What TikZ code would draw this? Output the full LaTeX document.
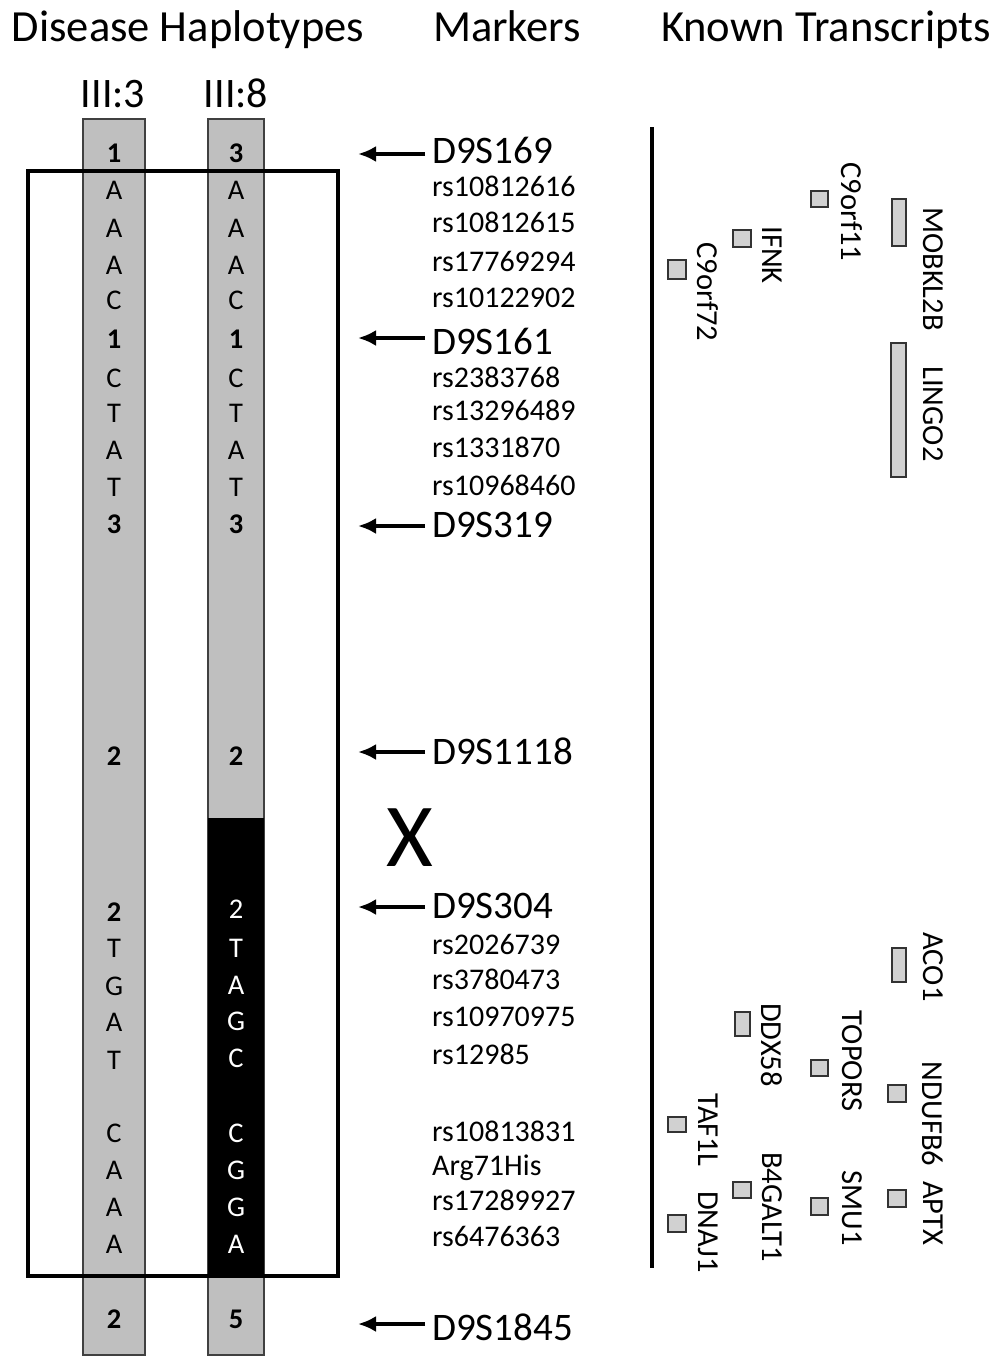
\documentclass[tikz,border=0pt]{standalone}
\usepackage{fontspec}
\setmainfont{Carlito}
\usetikzlibrary{arrows.meta}

\tikzset{
  heading/.style={inner sep=0pt, font=\fontsize{44.5}{48}\selectfont, text height=28.6pt, text depth=0pt},
  sample/.style={inner sep=0pt, font=\fontsize{42}{46}\selectfont, text height=27pt, text depth=0pt},
  allele/.style={inner sep=0pt, font=\fontsize{28.5}{30}\selectfont, text height=18.3pt, text depth=0pt},
  repeatnum/.style={allele, font=\fontsize{28.5}{30}\selectfont\bfseries},
  marker/.style={anchor=west, inner sep=0pt, font=\fontsize{39}{42}\selectfont, text height=25pt, text depth=0pt},
  snp/.style={anchor=west, inner sep=0pt, font=\fontsize{30}{34}\selectfont, text height=19.3pt, text depth=0pt},
  gene/.style={rotate=-90, inner sep=0pt, font=\fontsize{30.5}{33}\selectfont},
  genebox/.style={draw=black!80, fill=black!18, line width=1.5pt},
  pointer/.style={-{Latex[length=18pt, width=16pt]}, line width=3.5pt, shorten <=7pt},
}

\begin{document}
\begin{tikzpicture}[x=1pt, y=-1pt]
\useasboundingbox (0,0) rectangle (997,1357);

\node[heading] (haplo) at (188,27) {Disease Haplotypes};
\node[heading] (markers) at (507,27) {Markers};
\node[heading] (transcripts) at (826,27) {Known Transcripts};

\node[sample] (p33) at (113,94) {III:3};
\node[sample] (p38) at (236,94) {III:8};

% haplotype bars
\draw[fill=black!25, draw=black!75, line width=2pt] (83,119) rectangle (145,1355);
\draw[fill=black!25, draw=black!75, line width=2pt] (208,119) rectangle (264,1355);
\fill[black] (208,818) rectangle (264,1277);
\draw[line width=4.5pt] (28,171) rectangle (338,1276);

% III:3
\node[repeatnum] (a1) at (114,153) {1};
\node[allele] (a2) at (114,190) {A};
\node[allele] (a3) at (114,228) {A};
\node[allele] (a4) at (114,265) {A};
\node[allele] (a5) at (114,300) {C};
\node[repeatnum] (a6) at (114,339) {1};
\node[allele] (a7) at (114,378) {C};
\node[allele] (a8) at (114,413) {T};
\node[allele] (a9) at (114,450) {A};
\node[allele] (a10) at (114,487) {T};
\node[repeatnum] (a11) at (114,524) {3};
\node[repeatnum] (a12) at (114,756) {2};
\node[repeatnum] (a13) at (114,912) {2};
\node[allele] (a14) at (114,948) {T};
\node[allele] (a15) at (114,986) {G};
\node[allele] (a16) at (114,1022) {A};
\node[allele] (a17) at (114,1060) {T};
\node[allele] (a18) at (114,1133) {C};
\node[allele] (a19) at (114,1170) {A};
\node[allele] (a20) at (114,1207) {A};
\node[allele] (a21) at (114,1244) {A};
\node[repeatnum] (a22) at (114,1319) {2};

% III:8
\node[repeatnum] (b1) at (236,153) {3};
\node[allele] (b2) at (236,190) {A};
\node[allele] (b3) at (236,228) {A};
\node[allele] (b4) at (236,265) {A};
\node[allele] (b5) at (236,300) {C};
\node[repeatnum] (b6) at (236,339) {1};
\node[allele] (b7) at (236,378) {C};
\node[allele] (b8) at (236,413) {T};
\node[allele] (b9) at (236,450) {A};
\node[allele] (b10) at (236,487) {T};
\node[repeatnum] (b11) at (236,524) {3};
\node[repeatnum] (b12) at (236,756) {2};
\node[allele, white] (b13) at (236,909) {2};
\node[allele, white] (b14) at (236,948) {T};
\node[allele, white] (b15) at (236,985) {A};
\node[allele, white] (b16) at (236,1021) {G};
\node[allele, white] (b17) at (236,1058) {C};
\node[allele, white] (b18) at (236,1133) {C};
\node[allele, white] (b19) at (236,1170) {G};
\node[allele, white] (b20) at (236,1207) {G};
\node[allele, white] (b21) at (236,1244) {A};
\node[repeatnum] (b22) at (236,1319) {5};

\node[inner sep=0pt, font=\fontsize{90}{92}\selectfont, text height=58pt, text depth=0pt] (xover) at (410,837) {X};

% markers
\node[marker] (d9s169) at (432,151) {D9S169};
\node[snp] (rs10812616) at (432,187) {rs10812616};
\node[snp] (rs10812615) at (432,223) {rs10812615};
\node[snp] (rs17769294) at (432,262) {rs17769294};
\node[snp] (rs10122902) at (432,298) {rs10122902};
\node[marker] (d9s161) at (432,342) {D9S161};
\node[snp] (rs2383768) at (432,378) {rs2383768};
\node[snp] (rs13296489) at (432,411) {rs13296489};
\node[snp] (rs1331870) at (432,448) {rs1331870};
\node[snp] (rs10968460) at (432,486) {rs10968460};
\node[marker] (d9s319) at (432,525) {D9S319};
\node[marker] (d9s1118) at (432,752) {D9S1118};
\node[marker] (d9s304) at (432,906) {D9S304};
\node[snp] (rs2026739) at (432,945) {rs2026739};
\node[snp] (rs3780473) at (432,980) {rs3780473};
\node[snp] (rs10970975) at (432,1017) {rs10970975};
\node[snp] (rs12985) at (432,1055) {rs12985};
\node[snp] (rs10813831) at (432,1132) {rs10813831};
\node[snp] (arg71his) at (432,1166) {Arg71His};
\node[snp] (rs17289927) at (432,1201) {rs17289927};
\node[snp] (rs6476363) at (432,1237) {rs6476363};
\node[marker] (d9s1845) at (432,1328) {D9S1845};

\coordinate (t169) at (358,154);
\coordinate (t161) at (358,338);
\coordinate (t319) at (358,526);
\coordinate (t1118) at (358,752);
\coordinate (t304) at (358,907);
\coordinate (t1845) at (358,1324);

\draw[pointer] (d9s169.west |- t169) -- (t169);
\draw[pointer] (d9s161.west |- t161) -- (t161);
\draw[pointer] (d9s319.west |- t319) -- (t319);
\draw[pointer] (d9s1118.west |- t1118) -- (t1118);
\draw[pointer] (d9s304.west |- t304) -- (t304);
\draw[pointer] (d9s1845.west |- t1845) -- (t1845);

% transcripts
\draw[line width=3.5pt] (652,127) -- (652,1268);

\draw[genebox] (811,191) rectangle (828,207);
\node[gene] (c9orf11) at (852,212) {C9orf11};
\draw[genebox] (892,199) rectangle (906,246);
\node[gene] (mobkl2b) at (933,269) {MOBKL2B};
\draw[genebox] (733,230) rectangle (751,247);
\node[gene] (ifnk) at (772,255) {IFNK};
\draw[genebox] (668,260) rectangle (686,279);
\node[gene] (c9orf72) at (708,292) {C9orf72};
\draw[genebox] (891,343) rectangle (906,477);
\node[gene] (lingo2) at (933,414) {LINGO2};

\draw[genebox] (892,948) rectangle (906,982);
\node[gene] (aco1) at (933,967) {ACO1};
\draw[genebox] (735,1012) rectangle (750,1036);
\node[gene] (ddx58) at (772,1045) {DDX58};
\draw[genebox] (811,1060) rectangle (828,1076);
\node[gene] (topors) at (852,1061) {TOPORS};
\draw[genebox] (888,1085) rectangle (906,1102);
\node[gene] (ndufb6) at (933,1114) {NDUFB6};
\draw[genebox] (668,1117) rectangle (686,1132);
\node[gene] (taf1l) at (708,1130) {TAF1L};
\draw[genebox] (888,1190) rectangle (906,1207);
\node[gene] (aptx) at (933,1213) {APTX};
\draw[genebox] (733,1182) rectangle (751,1198);
\node[gene] (b4galt1) at (772,1207) {B4GALT1};
\draw[genebox] (811,1198) rectangle (828,1215);
\node[gene] (smu1) at (852,1208) {SMU1};
\draw[genebox] (668,1215) rectangle (686,1232);
\node[gene] (dnaj1) at (708,1232) {DNAJ1};

\end{tikzpicture}
\end{document}
